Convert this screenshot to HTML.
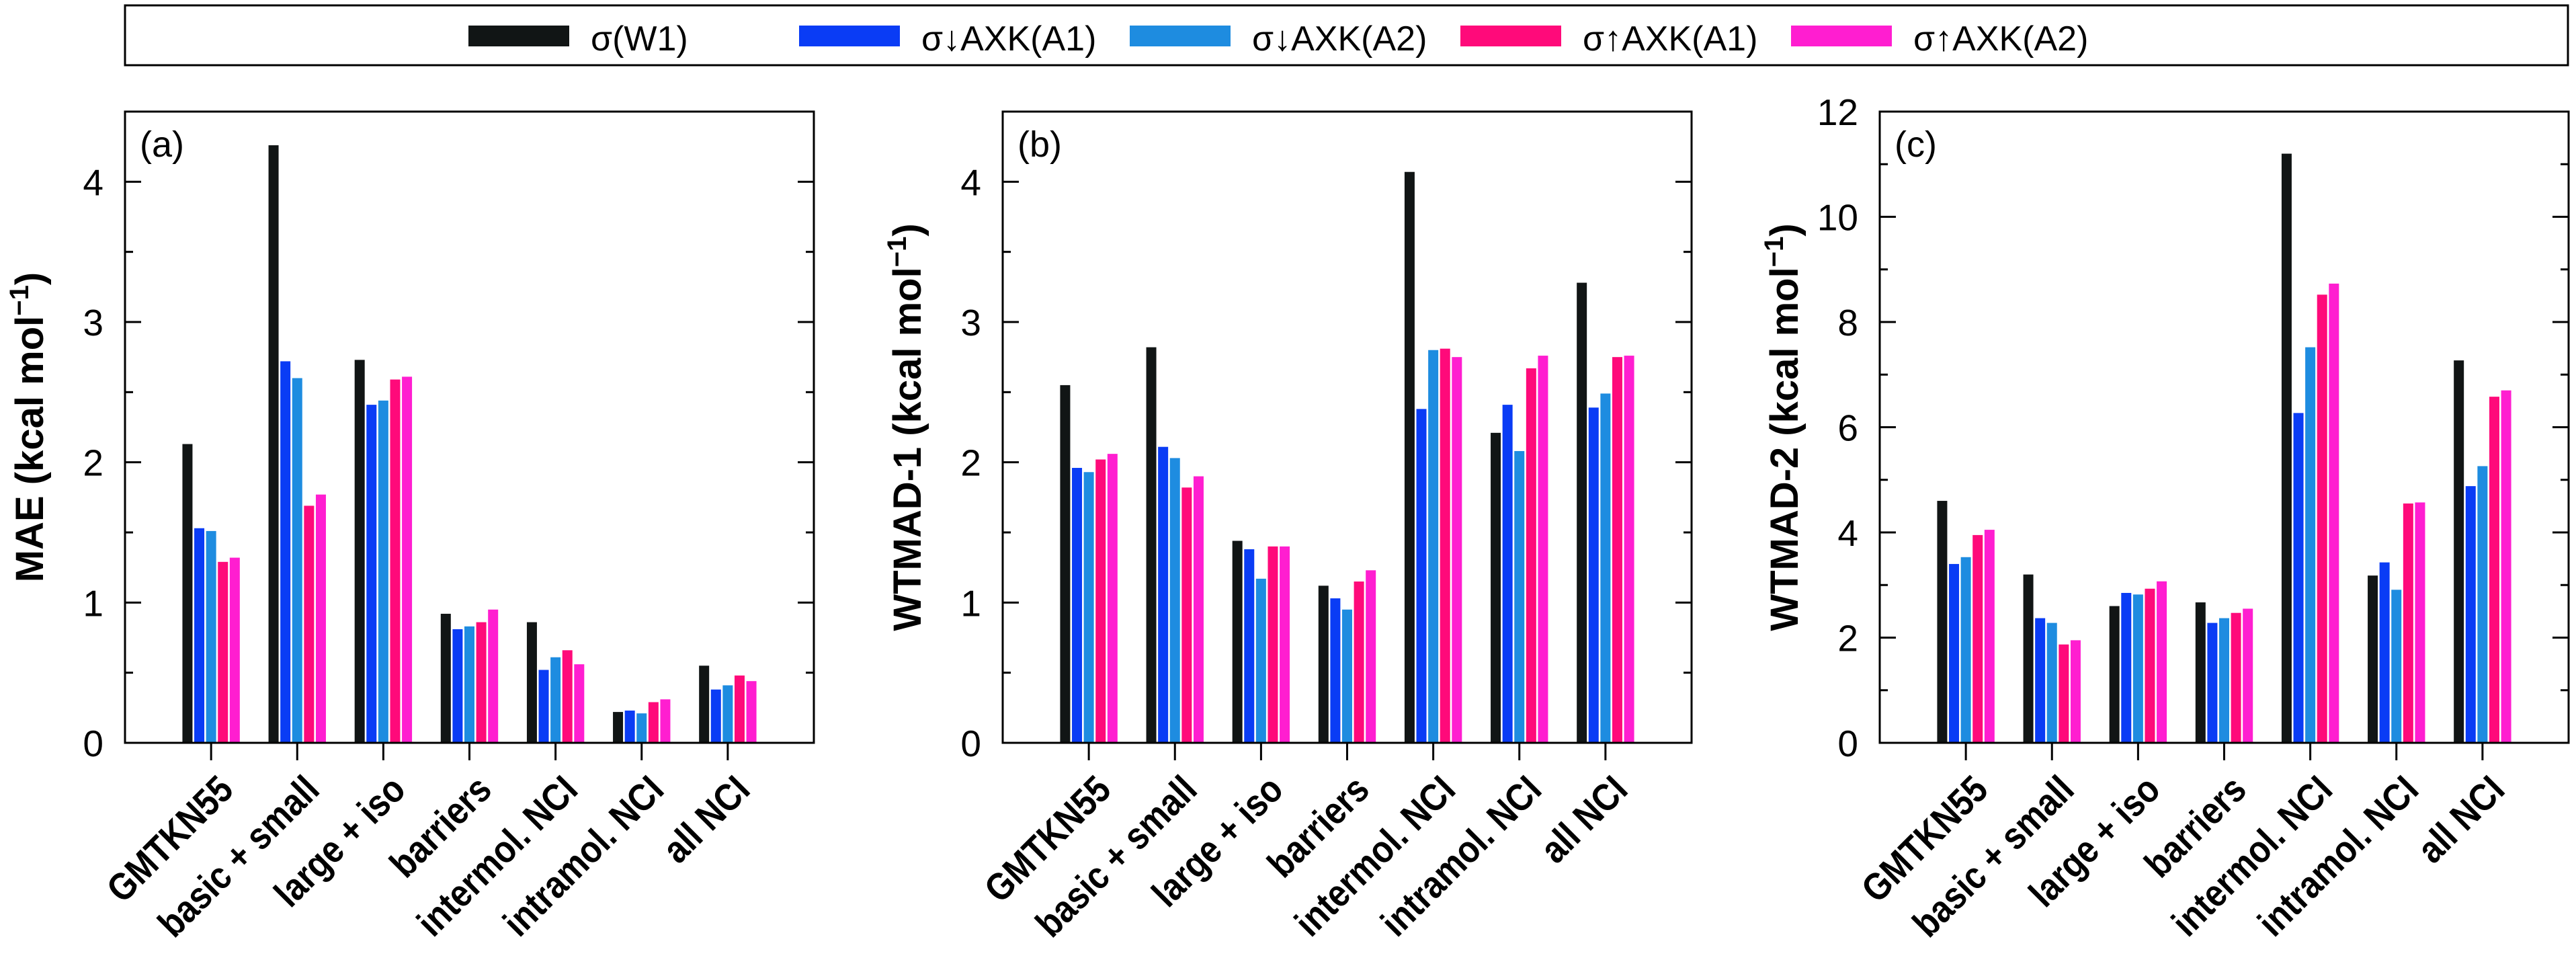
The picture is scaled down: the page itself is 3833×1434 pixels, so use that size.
<!DOCTYPE html>
<html><head><meta charset="utf-8"><style>
html,body{margin:0;padding:0;background:#fff;}
svg{display:block;font-family:"Liberation Sans",sans-serif;}
</style></head><body>
<svg id="fig" width="3833" height="1434" viewBox="0 0 3833 1434" xmlns="http://www.w3.org/2000/svg">
<g id="legend"></g>
<g id="panels"></g>
</svg>
<script>
const categories = ["GMTKN55","basic + small","large + iso","barriers","intermol. NCI","intramol. NCI","all NCI"];
const seriesNames = ["σ(W1)","σ↓AXK(A1)","σ↓AXK(A2)","σ↑AXK(A1)","σ↑AXK(A2)"];
const seriesColors = ["#111515","#0a3cf5","#1e8ce0","#ff0a7a","#ff1ed0"];
// panel (a) MAE, per series
const maeW1   = [2.13,4.26,2.73,0.92,0.86,0.22,0.55];
const maeDA1  = [1.53,2.72,2.41,0.81,0.52,0.23,0.38];
const maeDA2  = [1.51,2.60,2.44,0.83,0.61,0.21,0.41];
const maeUA1  = [1.29,1.69,2.59,0.86,0.66,0.29,0.48];
const maeUA2  = [1.32,1.77,2.61,0.95,0.56,0.31,0.44];
// panel (b) WTMAD-1
const wt1W1   = [2.55,2.82,1.44,1.12,4.07,2.21,3.28];
const wt1DA1  = [1.96,2.11,1.38,1.03,2.38,2.41,2.39];
const wt1DA2  = [1.93,2.03,1.17,0.95,2.80,2.08,2.49];
const wt1UA1  = [2.02,1.82,1.40,1.15,2.81,2.67,2.75];
const wt1UA2  = [2.06,1.90,1.40,1.23,2.75,2.76,2.76];
// panel (c) WTMAD-2
const wt2W1   = [4.60,3.20,2.60,2.67,11.20,3.18,7.27];
const wt2DA1  = [3.40,2.37,2.85,2.28,6.27,3.43,4.88];
const wt2DA2  = [3.53,2.28,2.82,2.37,7.52,2.91,5.26];
const wt2UA1  = [3.95,1.87,2.93,2.47,8.52,4.55,6.58];
const wt2UA2  = [4.05,1.95,3.07,2.55,8.73,4.57,6.70];
const ticksA = ["0","1","2","3","4"];
const ticksB = ["0","1","2","3","4"];
const ticksC = ["0","2","4","6","8","10","12"];

const NS="http://www.w3.org/2000/svg";
function mk(tag, attrs, parent){const e=document.createElementNS(NS,tag);for(const k in attrs)e.setAttribute(k,attrs[k]);parent.appendChild(e);return e;}

const lg=document.getElementById('legend');
const lgBox=mk('rect',{x:186,y:8,width:3635,height:89,fill:'none',stroke:'#000','stroke-width':3},lg);


seriesNames.forEach((n,i)=>{
  const x0=697+i*492;
  const g=mk('g',{},lg);
  
  
  mk('rect',{x:x0,y:38,width:150,height:31,fill:seriesColors[i]},g);
  const t=mk('text',{x:x0+182,y:75,'font-size':52,fill:'#000'},g);
  t.textContent=n;
});

const panels=[
 {name:'a',left:186,ymax:4.5,ticks:ticksA,minor:0.5,title:'MAE',data:[maeW1,maeDA1,maeDA2,maeUA1,maeUA2]},
 {name:'b',left:1492,ymax:4.5,ticks:ticksB,minor:0.5,title:'WTMAD-1',data:[wt1W1,wt1DA1,wt1DA2,wt1UA1,wt1UA2]},
 {name:'c',left:2797,ymax:12,ticks:ticksC,minor:1,title:'WTMAD-2',data:[wt2W1,wt2DA1,wt2DA2,wt2UA1,wt2UA2]}
];
const W=1025, plotTop=166, plotBot=1105;
const root=document.getElementById('panels');
panels.forEach(p=>{
  const g=mk('g',{},root);
  
  
  const L=p.left, R=L+W;
  const y=v=>plotBot-(v/p.ymax)*(plotBot-plotTop);
  const xc=i=>L+(i+1)*W/8;
  const bw=15, pitch=17.6;
  p.data.forEach((ser,s)=>{
    ser.forEach((v,i)=>{
      const bx=xc(i)-(4*pitch+bw)/2+s*pitch;
      const r=mk('rect',{x:bx,y:y(v),width:bw,height:plotBot-y(v),fill:seriesColors[s]},g);
      
      
    });
  });
  const n=Math.round(p.ymax/p.minor);
  for(let k=1;k<n;k++){
    const v=k*p.minor, yy=y(v);
    const isMajor=p.ticks.includes(String(Math.round(v*100)/100));
    const len=isMajor?24:12;
    mk('line',{x1:L,x2:L+len,y1:yy,y2:yy,stroke:'#000','stroke-width':3},g);
    mk('line',{x1:R,x2:R-len,y1:yy,y2:yy,stroke:'#000','stroke-width':3},g);
  }
  p.ticks.forEach(t=>{
    const tl=mk('text',{x:L-32,y:y(parseFloat(t))+20,'font-size':55,'text-anchor':'end',fill:'#000'},g);
    tl.textContent=t;
    
    
  });
  const fr=mk('rect',{x:L,y:plotTop,width:W,height:plotBot-plotTop,fill:'none',stroke:'#000','stroke-width':3},g);
  
  
  categories.forEach((c,i)=>{
    mk('line',{x1:xc(i),x2:xc(i),y1:plotBot,y2:plotBot+26,stroke:'#000','stroke-width':3},g);
    const ax=xc(i)+36, ay=1178;
    const tl=mk('text',{x:0,y:0,'font-size':57,'font-weight':'bold','text-anchor':'end',transform:`translate(${ax} ${ay}) rotate(-45) scale(0.87 1)`,fill:'#000'},g);
    tl.textContent=c;
    
    
  });
  const pl=mk('text',{x:L+22,y:233,'font-size':54,fill:'#000'},g);
  pl.textContent='('+p.name+')';
  
  
  const cx=L-122, cy=(plotTop+plotBot)/2;
  const yt=mk('text',{x:cx,y:cy,'font-size':58,'font-weight':'bold','text-anchor':'middle',transform:`rotate(-90 ${cx} ${cy})`,fill:'#000'},g);
  
  
  yt.appendChild(document.createTextNode(p.title+' (kcal mol'));
  const sup=mk('tspan',{'font-size':40,dy:-22},yt);
  sup.textContent='−1';
  const cl=mk('tspan',{dy:22},yt);
  cl.textContent=')';
});
</script>
</body></html>
